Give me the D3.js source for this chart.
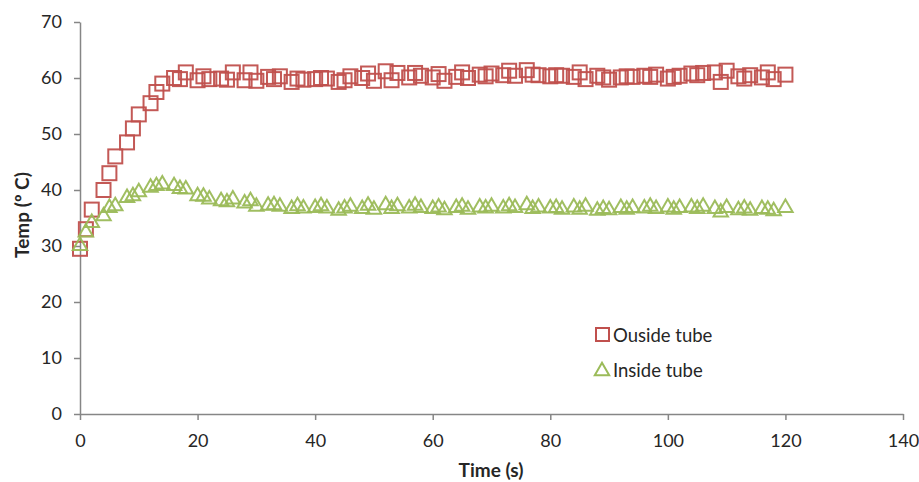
<!DOCTYPE html>
<html>
<head>
<meta charset="utf-8">
<script src="https://cdn.jsdelivr.net/npm/d3@7"></script>
<style>
  html, body { margin: 0; padding: 0; background: #fff; }
  svg { display: block; }
  text { font-family: Lato, "Open Sans", sans-serif; fill: #262626; }
</style>
</head>
<body>
<svg id="chart" width="919" height="482"></svg>
<script>
const times = [0,1,2,4,5,6,8,9,10,12,13,14,16,17,18,20,21,22,24,25,26,28,29,30,32,33,34,36,37,38,40,41,42,44,45,46,48,49,50,52,53,54,56,57,58,60,61,62,64,65,66,68,69,70,72,73,74,76,77,78,80,81,82,84,85,86,88,89,90,92,93,94,96,97,98,100,101,102,104,105,106,108,109,110,112,113,114,116,117,118,120];
const outsideTube = [29.5,33,36.5,40,43,46,48.5,51,53.5,55.5,57.5,59,60,59.8,61,59.6,60.3,59.8,59.9,59.7,61,59.6,61,59.5,60.2,59.8,60.3,59.3,59.9,59.7,59.8,60,59.9,59.3,59.6,60.3,60,60.8,59.5,61.2,59.6,60.9,60.1,60.9,60.4,60.1,60.7,59.5,60.2,61,60,60.6,60.3,60.8,60.5,61.3,60.4,61.4,60.6,60.5,60.3,60.5,60.4,60.2,61,59.8,60.4,60.1,59.7,60.1,60.3,60.2,60.4,60.2,60.6,59.9,60.2,60.4,60.8,60.5,60.9,61,59.3,61.3,60.3,59.9,60.5,60.1,61,59.8,60.6];
const insideTube = [30.2,32.6,34.3,35.5,37,37.3,38.8,39.1,39.8,40.6,40.9,41.2,40.9,40.4,40.3,39.1,39,38.5,38.2,38,38.5,37.8,38.2,37.2,37.4,37.5,37.2,36.8,37.3,36.9,37,37.3,36.9,36.5,36.9,37.2,36.8,37.4,36.7,37.5,36.8,37.3,36.9,37.4,37,36.8,37.1,36.6,37,37.2,36.7,37.1,36.9,37.2,36.9,37.3,37,37.5,36.8,37.1,36.9,37,36.7,37.1,36.7,37.2,36.5,36.8,36.6,37,36.7,37,36.9,37.2,36.8,37.1,36.7,37,37.1,36.8,37.2,36.8,36.2,37,36.6,36.9,36.5,36.8,36.7,36.4,37];
const xTicks = [0,20,40,60,80,100,120,140];
const yTicks = [0,10,20,30,40,50,60,70];
const seriesNames = ["Ouside tube", "Inside tube"];
const seriesColors = ["#C0504D", "#9BBB59"];

const svg = d3.select("#chart");
const mLeft = 80, mRight = 903, mTop = 22, mBottom = 414;
const x = d3.scaleLinear().domain([0, 140]).range([mLeft, mRight]);
const y = d3.scaleLinear().domain([0, 70]).range([mBottom, mTop]);
const axisColor = "#868686";

// Y axis
const yAxis = svg.append("g").attr("transform", `translate(${mLeft},0)`)
  .call(d3.axisLeft(y).tickValues(yTicks).tickSize(6).tickSizeOuter(0).tickPadding(12));
// X axis
const xAxis = svg.append("g").attr("transform", `translate(0,${mBottom})`)
  .call(d3.axisBottom(x).tickValues(xTicks).tickSize(6).tickSizeOuter(0).tickPadding(14));
[yAxis, xAxis].forEach(g => {
  g.select(".domain").attr("stroke", axisColor).attr("stroke-width", 1.5);
  g.selectAll(".tick line").attr("stroke", axisColor).attr("stroke-width", 1.5);
  g.selectAll(".tick text").attr("font-size", 18).attr("font-family", "Lato, sans-serif").attr("fill", "#262626");
});

// Axis titles
svg.append("text").attr("x", 491).attr("y", 477).attr("text-anchor", "middle")
  .attr("font-size", 19).attr("font-weight", "bold").text("Time (s)");
svg.append("text").attr("transform", "translate(29,215) rotate(-90)").attr("text-anchor", "middle")
  .attr("font-size", 19).attr("font-weight", "bold").text("Temp (º C)");

const sq = 14;
const triangle = d3.symbol().type(d3.symbolTriangle).size(90);

// Outside tube squares
svg.append("g").selectAll("rect").data(times.map((t, i) => [t, outsideTube[i]])).join("rect")
  .attr("x", d => x(d[0]) - sq / 2).attr("y", d => y(d[1]) - sq / 2)
  .attr("width", sq).attr("height", sq)
  .attr("fill", "none").attr("stroke", seriesColors[0]).attr("stroke-width", 2).attr("stroke-opacity", 0.95);

// Inside tube triangles
svg.append("g").selectAll("path").data(times.map((t, i) => [t, insideTube[i]])).join("path")
  .attr("d", triangle)
  .attr("transform", d => `translate(${x(d[0])},${y(d[1]) + 1})`)
  .attr("fill", "none").attr("stroke", seriesColors[1]).attr("stroke-width", 2).attr("stroke-opacity", 0.95);

// Legend
const lg = svg.append("g");
lg.append("rect").attr("x", 596).attr("y", 328).attr("width", 13).attr("height", 13)
  .attr("fill", "none").attr("stroke", seriesColors[0]).attr("stroke-width", 2);
lg.append("text").attr("x", 613).attr("y", 342).attr("font-size", 18.5).text(seriesNames[0]);
lg.append("path").attr("d", triangle).attr("transform", "translate(602,371)")
  .attr("fill", "none").attr("stroke", seriesColors[1]).attr("stroke-width", 2);
lg.append("text").attr("x", 613).attr("y", 377).attr("font-size", 18.5).text(seriesNames[1]);
</script>
</body>
</html>
